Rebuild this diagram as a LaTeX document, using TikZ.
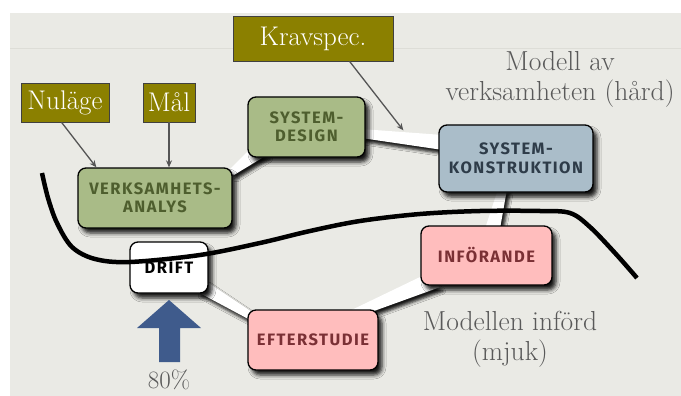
\documentclass[tikz,border=0pt]{standalone}
\usepackage{fontspec}
\newfontfamily\boxfont[LetterSpace=9]{Fira Sans}
\usetikzlibrary{calc,shadows.blur,arrows.meta}

\definecolor{paper}{HTML}{EAEAE5}
\definecolor{paperline}{HTML}{DDDDD7}
\definecolor{tagolive}{HTML}{8B8000}
\definecolor{greenfill}{HTML}{A9BB87}
\definecolor{greentext}{HTML}{4E5E2E}
\definecolor{bluefill}{HTML}{AABDC9}
\definecolor{bluetext}{HTML}{2E3C49}
\definecolor{pinkfill}{HTML}{FFBDBD}
\definecolor{pinktext}{HTML}{7A3035}
\definecolor{pointergray}{HTML}{555555}
\definecolor{captiongray}{HTML}{595959}
\definecolor{arrowblue}{HTML}{3F5B8C}

\begin{document}
\begin{tikzpicture}[x=1pt,y=-1pt,
  stage/.style={draw=black, line width=1.3pt, rounded corners=8pt, inner sep=0pt,
    align=center, font=\boxfont\bfseries\fontsize{16.5}{18.5}\selectfont,
    blur shadow={shadow xshift=4pt, shadow yshift=-5pt, shadow blur radius=4pt, shadow opacity=90}},
  tag/.style={draw=black!75, line width=0.8pt, fill=tagolive, text=white,
    inner sep=0pt, font=\fontsize{27}{27}\selectfont},
  band/.style={fill=white,
    blur shadow={shadow xshift=3pt, shadow yshift=-4pt, shadow blur radius=3pt, shadow opacity=90}},
  pointer/.style={draw=pointergray, line width=1.3pt, -{Stealth[length=7pt,width=6pt]}},
  caption/.style={text=captiongray, align=center, font=\fontsize{27.5}{30}\selectfont}
]
% page and slide background
\useasboundingbox (0,0) rectangle (681,396);
\fill[white] (0,0) rectangle (681,396);
\fill[paper] (10,13) rectangle (681,396);
\draw[paperline, line width=0.8pt] (10,48) -- (681,48);

% stage positions
\path (155,198)   coordinate (pva)
      (306.5,127) coordinate (psd)
      (516,158.5) coordinate (psk)
      (486.5,255.5) coordinate (pinf)
      (313,340)   coordinate (peft)
      (169,267.5) coordinate (pdrift);

% invisible placeholders so bands can refer to stage anchors
\begin{scope}[every node/.style={inner sep=0pt}]
  \node[minimum width=154pt, minimum height=60pt] (va) at (pva) {};
  \node[minimum width=117pt, minimum height=60pt] (sd) at (psd) {};
  \node[minimum width=154pt, minimum height=67pt] (sk) at (psk) {};
  \node[minimum width=131pt, minimum height=59pt] (inf) at (pinf) {};
  \node[minimum width=130pt, minimum height=60pt] (eft) at (peft) {};
  \node[minimum width=78pt, minimum height=51pt] (drift) at (pdrift) {};
\end{scope}

% white bands linking the stages
\fill[band] ($(va.north east)+(-6,5)$) -- ($(va.north east)+(2,7)$)
  -- ($(sd.south west)+(19,-2)$) -- ($(sd.south west)+(3,-9)$) -- cycle;
\fill[band] ($(sd.east)+(-4,2)$) -- ($(sk.west)+(4,-23.5)$)
  -- ($(sk.west)+(4,-8.5)$) -- ($(sd.east)+(-4,11)$) -- cycle;
\fill[band] ($(sk.south)+(-18,-3)$) -- ($(sk.south)+(-9,-3)$)
  -- ($(inf.north)+(13.5,3)$) -- ($(inf.north)+(-1.5,3)$) -- cycle;
\fill[band] ($(inf.south west)+(3,-10)$) -- ($(inf.south west)+(19,2)$)
  -- ($(eft.north west)+(124,2)$) -- ($(eft.north west)+(100,2)$) -- cycle;
\fill[band] ($(drift.south east)+(-2,-12)$) -- ($(drift.south east)+(-10,-1)$)
  -- ($(eft.north west)+(2,10)$) -- ($(eft.north west)+(4,2)$) -- cycle;

% stages
\node[stage, fill=greenfill, text=greentext, minimum width=154pt, minimum height=60pt]
  (va) at (pva) {VERKSAMHETS-\\ANALYS};
\node[stage, fill=greenfill, text=greentext, minimum width=117pt, minimum height=60pt]
  (sd) at (psd) {SYSTEM-\\DESIGN};
\node[stage, fill=bluefill, text=bluetext, minimum width=154pt, minimum height=67pt]
  (sk) at (psk) {SYSTEM-\\KONSTRUKTION};
\node[stage, fill=pinkfill, text=pinktext, minimum width=131pt, minimum height=59pt]
  (inf) at (pinf) {INFÖRANDE};
\node[stage, fill=pinkfill, text=pinktext, minimum width=130pt, minimum height=60pt]
  (eft) at (peft) {EFTERSTUDIE};
\node[stage, fill=white, text=black, minimum width=78pt, minimum height=51pt]
  (drift) at (pdrift) {DRIFT};

% input labels
\node[tag, minimum width=160pt, minimum height=45pt] (krav) at (313,38.5) {Kravspec.};
\node[tag, minimum width=88pt, minimum height=39pt] (nul) at (65,102.5) {Nuläge};
\node[tag, minimum width=52pt, minimum height=39pt] (mal) at (169,102.5) {Mål};

\draw[pointer] ($(nul.south west)+(41,0)$) -- ($(va.north west)+(19,0)$);
\draw[pointer] (mal.south) -- (mal.south |- va.north);
\draw[pointer] ($(krav.south west)+(117,0)$) -- ($(sk.north west)+(-35,6)$);

% boundary between the hard and the soft model
\draw[line width=4.5pt, black] plot[smooth, tension=0.55] coordinates {
  (42,173) (48,198) (57,223) (72,247) (95,259) (130,262) (200,255) (260,243)
  (310,231) (360,221) (420,214) (480,211) (540,211) (570,213) (590,227)
  (615,253) (637,278)};

% captions
\node[caption] (hard) at (560,79) {Modell av\\verksamheten (hård)};
\node[caption] (soft) at (510,339) {Modellen införd\\(mjuk)};

% operation share arrow
\fill[arrowblue] (159,362) -- (180,362) -- (180,328) -- (201,328) -- (169,300)
  -- (137,328) -- (159,328) -- cycle;
\node[caption, font=\fontsize{25}{28}\selectfont] (share) at (169,380) {80\%};
\end{tikzpicture}
\end{document}
